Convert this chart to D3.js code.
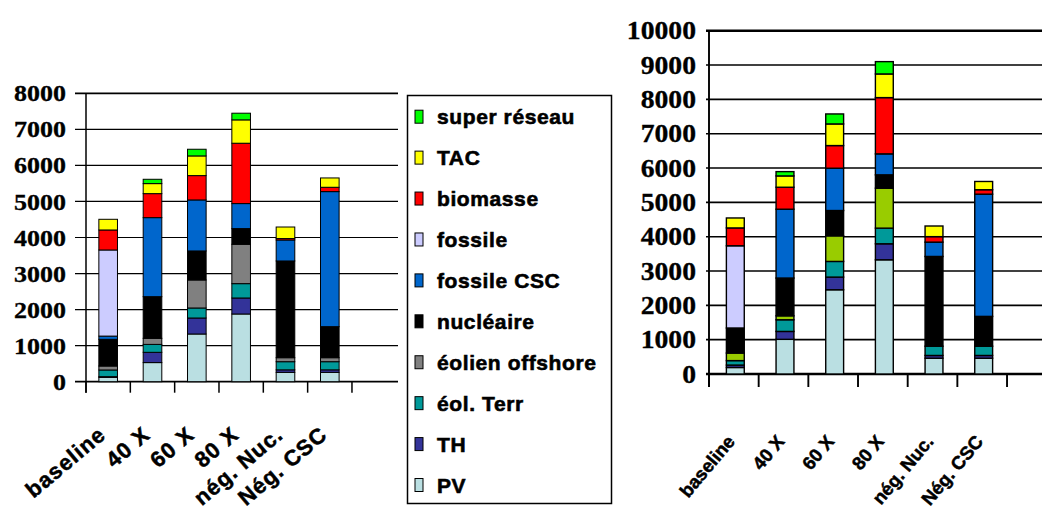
<!DOCTYPE html>
<html><head><meta charset="utf-8">
<script src="https://cdn.jsdelivr.net/npm/d3@7"></script>
<style>body{margin:0;background:#fff}svg{display:block}</style>
</head><body><svg id="c" width="1042" height="517"></svg>
<script>
// ---------------- data ----------------
const categories = ["baseline", "40 X", "60 X", "80 X", "nég. Nuc.", "Nég. CSC", ""];
const seriesNames = ["PV", "TH", "éol. Terr", "éolien offshore", "nucléaire", "fossile CSC", "fossile", "biomasse", "TAC", "super réseau"];
const leftTicks = [0, 1000, 2000, 3000, 4000, 5000, 6000, 7000, 8000];
const rightTicks = [0, 1000, 2000, 3000, 4000, 5000, 6000, 7000, 8000, 9000, 10000];

// left chart (values per category, bottom-up series)
const leftPV          = [120, 530, 1323, 1878, 259, 259];
const leftTH          = [20, 285, 444, 444, 70, 70];
const leftEolTerr     = [185, 220, 278, 398, 226, 226];
const leftEolOffshore = [110, 168, 777, 1092, 111, 111];
const leftNucleaire   = [740, 1156, 805, 435, 2683, 861];
const leftFossileCSC  = [90, 2192, 1415, 694, 582, 3746];
const leftFossile     = [2389, 0, 0, 0, 0, 0];
const leftBiomasse    = [555, 666, 675, 1674, 40, 120];
const leftTAC         = [296, 278, 546, 648, 320, 259];
const leftSuperReseau = [0, 120, 185, 185, 0, 0];

// right chart
const rightPV          = [190, 1010, 2454, 3327, 460, 460];
const rightTH          = [70, 230, 369, 466, 80, 80];
const rightEolTerr     = [130, 340, 456, 456, 270, 270];
const rightEolOffshore = [220, 115, 746, 1164, 0, 0];
const rightNucleaire   = [730, 1100, 737, 388, 2614, 868];
const rightFossileCSC  = [0, 2005, 1232, 611, 417, 3560];
const rightFossile     = [2395, 0, 0, 0, 0, 0];
const rightBiomasse    = [520, 640, 660, 1639, 160, 130];
const rightTAC         = [290, 330, 630, 689, 310, 240];
const rightSuperReseau = [0, 125, 291, 359, 0, 0];

const leftColors  = ["#BADFE2", "#333399", "#009999", "#808080", "#000000", "#0066CC", "#CCCCFF", "#FF0000", "#FFFF00", "#00FF00"];
const rightColors = ["#BADFE2", "#333399", "#009999", "#99CC00", "#000000", "#0066CC", "#CCCCFF", "#FF0000", "#FFFF00", "#00FF00"];

const leftSeries  = [leftPV, leftTH, leftEolTerr, leftEolOffshore, leftNucleaire, leftFossileCSC, leftFossile, leftBiomasse, leftTAC, leftSuperReseau];
const rightSeries = [rightPV, rightTH, rightEolTerr, rightEolOffshore, rightNucleaire, rightFossileCSC, rightFossile, rightBiomasse, rightTAC, rightSuperReseau];

function rows(series) {
  return categories.slice(0, 6).map((c, i) => {
    const r = {cat: c};
    seriesNames.forEach((s, k) => r[s] = series[k][i]);
    return r;
  });
}

// ---------------- drawing ----------------
const svg = d3.select("#c");

function chart(cfg) {
  const g = svg.append("g");
  const x = d3.scaleBand().domain(categories).range(cfg.xr);
  const y = d3.scaleLinear().domain([0, cfg.ticks[cfg.ticks.length - 1]]).range(cfg.yr);
  const bw = x.bandwidth();
  const top = cfg.ticks[cfg.ticks.length - 1];

  // gridlines
  g.append("g").selectAll("line").data(cfg.ticks).join("line")
    .attr("x1", cfg.xr[0] - cfg.tickL).attr("x2", cfg.gridEnd)
    .attr("y1", d => y(d)).attr("y2", d => y(d))
    .attr("stroke", "#000")
    .attr("stroke-width", d => (d === 0 || d === top) ? cfg.thick : cfg.thin);

  // vertical axis
  g.append("line").attr("x1", cfg.xr[0]).attr("x2", cfg.xr[0])
    .attr("y1", y(top)).attr("y2", y(0) + cfg.tickDown)
    .attr("stroke", "#000").attr("stroke-width", cfg.thin + 0.3);

  // category ticks
  g.append("g").selectAll("line").data(categories).join("line")
    .attr("x1", d => x(d)).attr("x2", d => x(d))
    .attr("y1", y(0)).attr("y2", y(0) + cfg.tickDown)
    .attr("stroke", "#000").attr("stroke-width", cfg.thin + 0.3);

  // stacked bars
  const stack = d3.stack().keys(seriesNames)(rows(cfg.series));
  stack.forEach((layer, k) => {
    g.append("g").selectAll("rect").data(layer.filter(d => d[1] - d[0] > 0)).join("rect")
      .attr("x", d => x(d.data.cat) + bw * cfg.barOff)
      .attr("width", bw * cfg.barW)
      .attr("y", d => y(d[1]))
      .attr("height", d => y(d[0]) - y(d[1]))
      .attr("fill", cfg.colors[k])
      .attr("stroke", "#000").attr("stroke-width", cfg.barStroke);
  });

  // y labels
  g.append("g").selectAll("text").data(cfg.ticks).join("text")
    .attr("transform", d => `translate(${cfg.labelX},${y(d)}) scale(1.13,1)`)
    .attr("dy", "0.35em")
    .attr("text-anchor", "end")
    .style("font-family", "'Liberation Serif', 'Times New Roman', serif")
    .style("font-weight", "bold")
    .style("font-size", cfg.yFont + "px")
    .attr("fill", "#000")
    .attr("stroke", "#000").attr("stroke-width", 0.3)
    .text(d => d);

  // x labels
  g.append("g").selectAll("text").data(categories.filter(c => c !== "")).join("text")
    .attr("transform", d => `translate(${x(d) + bw / 2 + cfg.xlabDx},${cfg.xlabY}) rotate(${cfg.xlabRot})`)
    .attr("text-anchor", "end")
    .style("font-family", "'Liberation Sans', Arial, sans-serif")
    .style("font-weight", "bold")
    .style("font-size", cfg.xFont + "px")
    .style("letter-spacing", cfg.xSpacing + "px")
    .attr("fill", "#000")
    .attr("stroke", "#000").attr("stroke-width", 0.5)
    .text(d => d);
}

chart({
  xr: [86, 396.3], yr: [381.7, 93.3], ticks: leftTicks, series: leftSeries, colors: leftColors,
  tickL: 11, gridEnd: 398, tickDown: 11, thin: 1.2, thick: 1.7,
  barOff: 0.29, barW: 0.42, barStroke: 1,
  labelX: 66, yFont: 23,
  xlabDx: -1, xlabY: 437, xlabRot: -40, xFont: 22, xSpacing: 1
});

chart({
  xr: [709, 1056.7], yr: [374, 30.7], ticks: rightTicks, series: rightSeries, colors: rightColors,
  tickL: 3, gridEnd: 1042, tickDown: 13, thin: 1.6, thick: 2.6,
  barOff: 0.35, barW: 0.36, barStroke: 1.4,
  labelX: 696, yFont: 24.5,
  xlabDx: 2, xlabY: 442, xlabRot: -50, xFont: 18.5, xSpacing: 0
});

// legend
const legendNames = seriesNames.slice().reverse();
const legendColors = leftColors.slice().reverse();
const lg = svg.append("g");
lg.append("rect").attr("x", 407.5).attr("y", 95.5).attr("width", 204).attr("height", 408)
  .attr("fill", "#fff").attr("stroke", "#000").attr("stroke-width", 1.5);
const ly = d3.scaleLinear().domain([0, 9]).range([116.7, 485]);
lg.selectAll("rect.sw").data(legendNames).join("rect").attr("class", "sw")
  .attr("x", 415).attr("y", (d, i) => ly(i) - 6.5).attr("width", 8).attr("height", 13)
  .attr("fill", (d, i) => legendColors[i]).attr("stroke", "#000").attr("stroke-width", 1);
lg.selectAll("text").data(legendNames).join("text")
  .attr("x", 437).attr("y", (d, i) => ly(i)).attr("dy", "0.36em")
  .style("font-family", "'Liberation Sans', Arial, sans-serif")
  .style("font-weight", "bold").style("font-size", "21px").style("letter-spacing", "0.6px")
  .attr("fill", "#000").attr("stroke", "#000").attr("stroke-width", 0.6)
  .text(d => d);
</script></body></html>
